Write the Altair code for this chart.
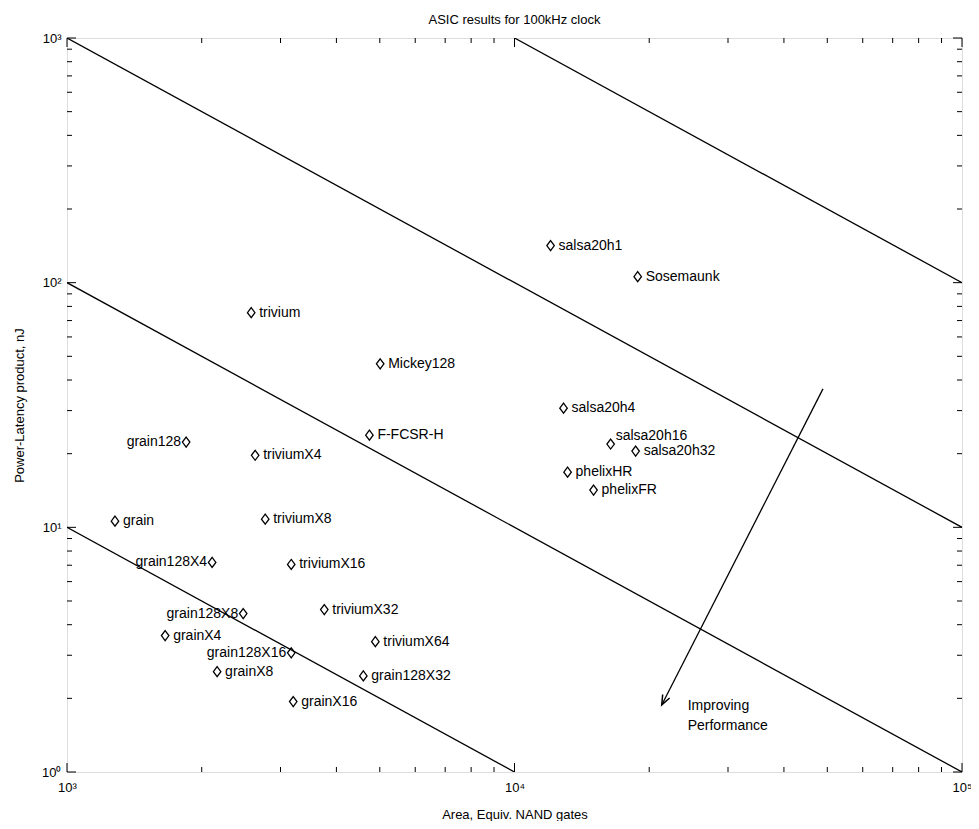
import altair as alt
import pandas as pd

# ---- data ----
names = ["salsa20h1", "Sosemaunk", "trivium", "Mickey128", "F-FCSR-H", "salsa20h4",
         "salsa20h16", "salsa20h32", "phelixHR", "phelixFR", "grain128", "triviumX4",
         "grain", "triviumX8", "grain128X4", "triviumX16", "grain128X8", "triviumX32",
         "grainX4", "triviumX64", "grain128X16", "grainX8", "grain128X32", "grainX16"]
area = [12040, 18850, 2580, 5010, 4740, 12870,
        16400, 18650, 13140, 15020, 1846, 2633,
        1280, 2773, 2110, 3170, 2476, 3758,
        1657, 4887, 3170, 2165, 4594, 3203]
power_latency = [141.8, 105.8, 75.4, 46.6, 23.8, 30.7,
                 21.9, 20.5, 16.8, 14.2, 22.3, 19.7,
                 10.6, 10.8, 7.19, 7.05, 4.44, 4.61,
                 3.61, 3.41, 3.07, 2.57, 2.47, 1.94]
left_labeled = ["grain128", "grain128X4", "grain128X8", "grain128X16"]
raised_labeled = ["salsa20h16"]

# constant power-latency*area lines (endpoints)
line_id = ["a", "a", "b", "b", "c", "c", "d", "d"]
line_x = [1000, 10000, 1000, 100000, 1000, 100000, 10000, 100000]
line_y = [10, 1, 100, 1, 1000, 10, 1000, 100]

# arrow
arrow_x = [48900]
arrow_y = [36.8]
arrow_x2 = [21330]
arrow_y2 = [1.88]
note_lines = ["Improving", "Performance"]
note_x = [24380, 24380]
note_y = [1.865, 1.544]

x_major = [1000, 10000, 100000]
y_major = [1, 10, 100, 1000]
x_minor = [2000, 3000, 4000, 5000, 6000, 7000, 8000, 9000,
           20000, 30000, 40000, 50000, 60000, 70000, 80000, 90000]
y_minor = [2, 3, 4, 5, 6, 7, 8, 9, 20, 30, 40, 50, 60, 70, 80, 90,
           200, 300, 400, 500, 600, 700, 800, 900]

W, H = 895, 734
FONT = "Liberation Sans"

pts = pd.DataFrame({"name": names, "area": area, "pl": power_latency})
pts["side"] = ["left" if n in left_labeled else ("raised" if n in raised_labeled else "right")
               for n in names]
lines = pd.DataFrame({"id": line_id, "x": line_x, "y": line_y})
arrow = pd.DataFrame({"x": arrow_x, "y": arrow_y, "x2": arrow_x2, "y2": arrow_y2})
note = pd.DataFrame({"t": note_lines, "x": note_x, "y": note_y})

sup = "['\u2070','\u00b9','\u00b2','\u00b3','\u2074','\u2075'][round(log(datum.value)/LN10)]"
xscale = alt.Scale(type="log", domain=[1000, 100000], nice=False)
yscale = alt.Scale(type="log", domain=[1, 1000], nice=False)

xenc = alt.X("area:Q", scale=xscale,
             axis=alt.Axis(values=x_major, labelExpr="'10' + " + sup, ticks=False, domain=False,
                           grid=False, title="Area, Equiv. NAND gates", labelFont=FONT,
                           labelFontSize=13, labelPadding=9, titleFont=FONT, titleFontSize=13,
                           titleFontWeight="normal", titlePadding=14, labelColor="black",
                           titleColor="black", labelFlush=False))
yenc = alt.Y("pl:Q", scale=yscale,
             axis=alt.Axis(values=y_major, labelExpr="'10' + " + sup, ticks=False, domain=False,
                           grid=False, title="Power-Latency product, nJ", labelFont=FONT,
                           labelFontSize=13, labelPadding=6, titleFont=FONT, titleFontSize=13,
                           titleFontWeight="normal", titlePadding=15, labelColor="black",
                           titleColor="black", labelFlush=False))

base = alt.Chart(pts)

diamond = "M 0 -1 L 0.75 0 L 0 1 L -0.75 0 Z"
points = base.mark_point(shape=diamond, size=100, filled=False, color="black",
                         strokeWidth=1.3, opacity=1).encode(x=xenc, y=yenc)

text_common = dict(font=FONT, fontSize=14, color="black", baseline="middle")
lab_right = base.transform_filter(alt.datum.side == "right").mark_text(
    align="left", dx=8, **text_common).encode(x="area:Q", y="pl:Q", text="name:N")
lab_left = base.transform_filter(alt.datum.side == "left").mark_text(
    align="right", dx=-5, **text_common).encode(x="area:Q", y="pl:Q", text="name:N")
lab_raised = base.transform_filter(alt.datum.side == "raised").mark_text(
    align="left", dx=5, dy=-8, **text_common).encode(x="area:Q", y="pl:Q", text="name:N")

lines_layer = alt.Chart(lines).mark_line(color="black", strokeWidth=1.3, clip=True).encode(
    x=alt.X("x:Q", scale=xscale), y=alt.Y("y:Q", scale=yscale), detail="id:N")

arrow_rule = alt.Chart(arrow).mark_rule(color="black", strokeWidth=1.3).encode(
    x=alt.X("x:Q", scale=xscale), y=alt.Y("y:Q", scale=yscale), x2="x2:Q", y2="y2:Q")
vshape = "M -0.4 -1 L 0 0 L 0.4 -1"
arrow_head = alt.Chart(arrow).mark_point(shape=vshape, size=380, filled=False, color="black",
                                         strokeWidth=1.5, angle=27, opacity=1).encode(
    x=alt.X("x2:Q", scale=xscale), y=alt.Y("y2:Q", scale=yscale))
note_layer = alt.Chart(note).mark_text(align="left", **text_common).encode(
    x=alt.X("x:Q", scale=xscale), y=alt.Y("y:Q", scale=yscale), text="t:N")

# inward tick marks on all four sides
tick_style = dict(color="black", strokeWidth=1)


def tick_layers(vals, length):
    d = pd.DataFrame({"v": vals})
    c = alt.Chart(d).mark_rule(**tick_style)
    return [
        c.encode(x=alt.X("v:Q", scale=xscale), y=alt.value(H), y2=alt.value(H - length)),
        c.encode(x=alt.X("v:Q", scale=xscale), y=alt.value(0), y2=alt.value(length)),
    ]


def ytick_layers(vals, length):
    d = pd.DataFrame({"v": vals})
    c = alt.Chart(d).mark_rule(**tick_style)
    return [
        c.encode(y=alt.Y("v:Q", scale=yscale), x=alt.value(0), x2=alt.value(length)),
        c.encode(y=alt.Y("v:Q", scale=yscale), x=alt.value(W), x2=alt.value(W - length)),
    ]


ticks = (tick_layers(x_minor, 5) + tick_layers(x_major, 9)
         + ytick_layers(y_minor, 5) + ytick_layers(y_major, 9))

chart = alt.layer(
    points, lines_layer, *ticks,
    lab_right, lab_left, lab_raised, arrow_rule, arrow_head, note_layer
).properties(
    width=W, height=H,
    title=alt.TitleParams("ASIC results for 100kHz clock", font=FONT, fontSize=13,
                          fontWeight="normal", color="black", offset=5),
    padding={"left": 59, "top": 30, "right": 9, "bottom": 49},
    autosize=alt.AutoSizeParams(type="none"),
).configure_view(stroke="black", strokeWidth=1.8).configure(background="white")

chart.save("out.html", embed_options={"renderer": "svg", "actions": False})
